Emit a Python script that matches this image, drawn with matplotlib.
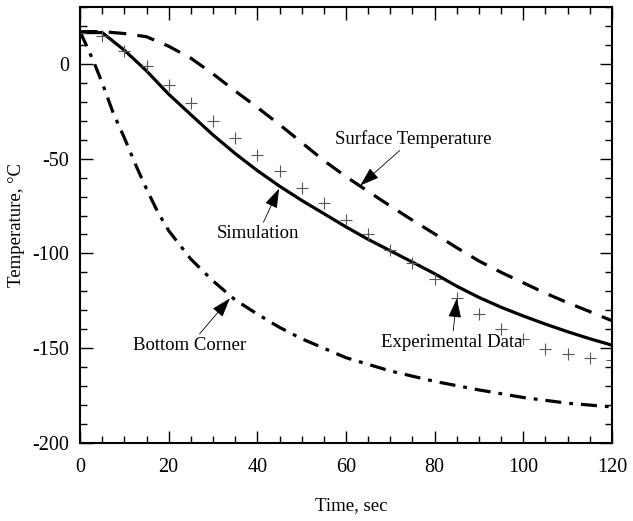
import matplotlib
matplotlib.use("Agg")
import matplotlib.pyplot as plt
from matplotlib.ticker import MultipleLocator

plt.rcParams['font.family'] = ['Liberation Serif', 'DejaVu Serif']
plt.rcParams['axes.unicode_minus'] = False

# Simulation (solid)
sim_t = [0, 5, 10, 15, 20, 25, 30, 35, 40, 45, 50, 55, 60, 65, 70, 75, 80, 85, 90, 95, 100, 105, 110, 115, 120]
sim_T = [16.5, 16.5, 7.2, -3.7, -16, -26.8, -37.5, -47.3, -56.3, -64.5, -72, -79, -86, -92.6, -98.6, -104.6, -110.7, -117.3, -123.2, -128.4, -133, -137.3, -141.3, -145, -148.4]

# Surface temperature (dashed)
surf_t = [0, 5, 10, 15, 20, 25, 30, 35, 40, 45, 50, 55, 60, 65, 70, 75, 80, 85, 90, 95, 100, 105, 110, 115, 120]
surf_T = [17, 17, 16, 14.3, 9.3, 3, -5.3, -14.3, -23, -32, -41.5, -51, -59.5, -67.3, -75, -82.5, -89.7, -97, -104, -110, -115.5, -121, -126, -130.7, -135.5]

# Bottom corner (dash-dot)
bot_t = [0, 1, 3, 5, 7.5, 10, 12.5, 15, 17.5, 20, 25, 30, 35, 40, 45, 50, 60, 70, 80, 90, 100, 110, 120]
bot_T = [17, 12, 1.6, -10, -26, -39, -53, -66, -78, -88, -103, -114.5, -124.5, -132, -139, -145, -155, -162, -167.5, -172, -176, -179, -181]

# Experimental data (+ markers)
exp_t = [0, 5, 10, 15, 20, 25, 30, 35, 40, 45, 50, 55, 60, 65, 70, 75, 80, 85, 90, 95, 100, 105, 110, 115, 120]
exp_T = [16.5, 14.7, 6.8, -1, -11.2, -20.7, -30.4, -39.3, -48, -56.7, -65.4, -73.5, -82.3, -90, -98, -105, -113.7, -123.5, -132, -139.6, -145.4, -150.4, -153.3, -154.9, -156]

fig = plt.figure(figsize=(6.33, 5.21), dpi=100)
ax = fig.add_axes([0.1264, 0.1497, 0.8404, 0.8369])

ax.plot(sim_t, sim_T, color='black', lw=2.3, solid_joinstyle='round')
ax.plot(surf_t, surf_T, color='black', lw=2.3, dashes=(5.5, 3.5))
ax.plot(bot_t, bot_T, color='black', lw=2.3, dashes=(5, 2.5, 1.2, 2.5))
ax.plot(exp_t, exp_T, linestyle='none', marker='+', ms=8, mew=0.8, color='#555555')

ax.set_xlim(0, 120)
ax.set_ylim(-200, 30)
ax.xaxis.set_major_locator(MultipleLocator(20))
ax.xaxis.set_minor_locator(MultipleLocator(5))
ax.yaxis.set_major_locator(MultipleLocator(50))
ax.yaxis.set_minor_locator(MultipleLocator(10))
ax.set_yticks([-200, -150, -100, -50, 0])
ax.tick_params(which='both', direction='in', top=True, right=True, labelsize=14.5, width=1)
ax.tick_params(which='major', length=9)
ax.tick_params(which='minor', length=5)
ax.tick_params(axis='x', which='major', pad=11)
ax.tick_params(axis='y', which='major', pad=8)
for s in ax.spines.values():
    s.set_linewidth(1.5)

ax.set_xlabel('Time, sec', fontsize=13.5)
ax.set_ylabel('Temperature, °C', fontsize=13.5)
ax.xaxis.set_label_coords(0.509, -0.124)
ax.yaxis.set_label_coords(-0.103, 0.5)

arrowprops = dict(arrowstyle='-|>,head_length=0.9,head_width=0.3', color='black', lw=0.6, shrinkA=0, shrinkB=0)
fs = 13.5
ax.annotate('Surface Temperature', xy=(63.2, -64.2), xytext=(75.1, -39.5), ha='center', va='center', fontsize=fs,
            arrowprops=arrowprops)
ax.annotate('Simulation', xy=(44.9, -65.8), xytext=(40.2, -89.5), ha='center', va='center', fontsize=fs,
            arrowprops=arrowprops)
ax.annotate('Bottom Corner', xy=(33.8, -123.7), xytext=(24.8, -148.4), ha='center', va='center', fontsize=fs,
            arrowprops=arrowprops)
ax.annotate('Experimental Data', xy=(85, -123.7), xytext=(83.9, -146.8), ha='center', va='center', fontsize=fs,
            arrowprops=arrowprops)

fig.savefig('out.png', dpi=100)
